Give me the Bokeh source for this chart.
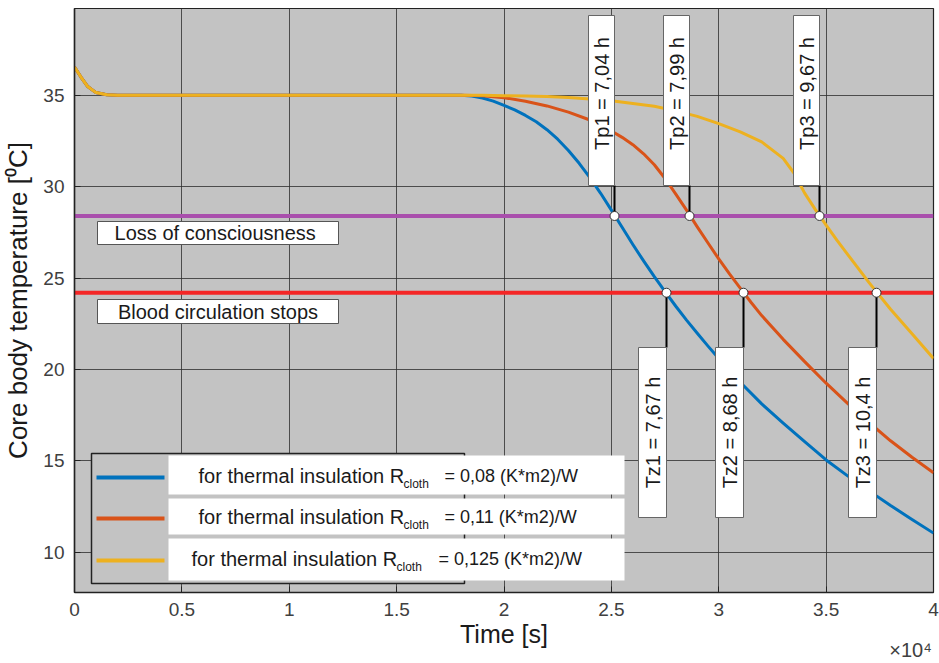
import numpy as np
from bokeh.plotting import figure
from bokeh.models import FixedTicker, LinearAxis, Range1d
from bokeh.core.properties import value
from bokeh.embed import file_html
from bokeh.resources import INLINE

# ---------------- data ----------------
time_r008 = [0, 300, 600, 1000, 1500, 2000, 18000, 18500, 19000, 19500, 20000,
             20500, 21000, 21500, 22000, 22500, 23000, 23500, 24000, 24500, 25000,
             25500, 26000, 26500, 27000, 27500, 28000, 28500, 29000, 29500, 30000,
             31000, 32000, 33000, 34000, 35000, 36000, 37000, 38000, 39000, 40000]
temp_r008 = [36.55, 36.0, 35.5, 35.15, 35.03, 35.0, 35.0, 34.96, 34.85, 34.68, 34.45,
             34.2, 33.9, 33.55, 33.12, 32.6, 31.98, 31.28, 30.5, 29.64, 28.72,
             27.78, 26.84, 25.94, 25.08, 24.26, 23.46, 22.7, 21.98, 21.28, 20.6,
             19.3, 18.12, 17.07, 16.05, 15.05, 14.18, 13.36, 12.56, 11.8, 11.05]

time_r011 = [0, 300, 600, 1000, 1500, 2000, 18000, 19000, 20000, 21000, 22000,
             23000, 24000, 24500, 25000, 25500, 26000, 26500, 27000, 27500, 28000,
             28500, 29000, 29500, 30000, 30500, 31000, 31500, 32000, 33000, 34000,
             35000, 36000, 37000, 38000, 39000, 40000]
temp_r011 = [36.55, 36.0, 35.5, 35.15, 35.03, 35.0, 35.0, 34.97, 34.87, 34.68, 34.42,
             34.08, 33.65, 33.37, 33.05, 32.7, 32.3, 31.8, 31.2, 30.45, 29.6,
             28.72, 27.8, 26.92, 26.05, 25.23, 24.45, 23.68, 22.95, 21.65, 20.43,
             19.25, 18.15, 17.1, 16.1, 15.2, 14.35]

time_r0125 = [0, 300, 600, 1000, 1500, 2000, 19000, 20000, 21000, 22000, 23000,
              24000, 25000, 26000, 27000, 28000, 29000, 30000, 31000, 32000, 32500,
              33000, 33500, 34000, 34500, 35000, 35500, 36000, 37000, 38000, 39000,
              40000]
temp_r0125 = [36.55, 36.0, 35.5, 35.15, 35.03, 35.0, 35.0, 34.98, 34.96, 34.93, 34.88,
              34.8, 34.7, 34.55, 34.4, 34.15, 33.85, 33.45, 33.0, 32.45, 32.0,
              31.55, 30.75, 29.65, 28.75, 27.9, 27.08, 26.3, 24.75, 23.3, 21.95,
              20.6]

series_names = ["0,08", "0,11", "0,125"]
series_colors = ["#0072BD", "#D95319", "#EDB120"]

loss_level = 28.4      # loss of consciousness
stop_level = 24.2      # blood circulation stops

tp_times = [25146, 28638, 34692]
tp_labels = ["Tp1 = 7,04 h", "Tp2 = 7,99 h", "Tp3 = 9,67 h"]
tz_times = [27567, 31153, 37346]
tz_labels = ["Tz1 = 7,67 h", "Tz2 = 8,68 h", "Tz3 = 10,4 h"]

x_ticks = [0, 5000, 10000, 15000, 20000, 25000, 30000, 35000, 40000]
x_tick_labels = ["0", "0.5", "1", "1.5", "2", "2.5", "3", "3.5", "4"]
y_ticks = [10, 15, 20, 25, 30, 35]
x_multiplier = "\u00d710\u2074"

# ---------------- layout helpers (pixel -> data) ----------------
FL, FR, FT, FB = 73, 932, 8, 592
XMIN, XMAX, YMIN, YMAX = 0, 40000, 7.8, 39.75


def px_x(px):
    return XMIN + (px - FL) / (FR - FL) * (XMAX - XMIN)


def px_y(py):
    return YMAX - (py - FT) / (FB - FT) * (YMAX - YMIN)


def wpx(w):
    return w / (FR - FL) * (XMAX - XMIN)


BG = "#c3c3c3"
FONT = "Liberation Sans"
TXT = "#1a1a1a"

p = figure(frame_width=FR - FL, frame_height=FB - FT,
           min_border_left=FL, min_border_right=939 - FR,
           min_border_top=FT, min_border_bottom=663 - FB,
           x_range=Range1d(XMIN, XMAX), y_range=Range1d(YMIN, YMAX),
           output_backend="svg", toolbar_location=None,
           background_fill_color=BG, border_fill_color="white")
p.outline_line_color = "#222222"
p.outline_line_width = 1.2

p.xaxis.ticker = FixedTicker(ticks=x_ticks)
p.xaxis.major_label_overrides = {t: l for t, l in zip(x_ticks, x_tick_labels)}
p.yaxis.ticker = FixedTicker(ticks=y_ticks)
for ax in (p.xaxis[0], p.yaxis[0]):
    ax.major_label_text_font = FONT
    ax.major_label_text_font_size = "19px"
    ax.major_label_text_color = "#404040"
    ax.axis_label_text_font = FONT
    ax.axis_label_text_font_style = "normal"
    ax.axis_label_text_color = TXT
    ax.axis_line_color = "#222222"
    ax.axis_line_width = 1.5
    ax.major_tick_in = 6
    ax.major_tick_out = 0
    ax.major_tick_line_color = "#222222"
    ax.minor_tick_line_color = None
p.xaxis.axis_label = "Time [s]"
p.xaxis.axis_label_text_font_size = "25px"
p.yaxis.axis_label = "Core body temperature [\u2070C]"
p.yaxis.axis_label_text_font_size = "26px"
p.xaxis.major_label_standoff = 10
p.xaxis.axis_label_standoff = 1
p.yaxis.major_label_standoff = 10
p.yaxis.axis_label_standoff = 7

# second (label-only) bottom axis carrying the x10^4 multiplier
mult_pos = px_x(909)
ax2 = LinearAxis(ticker=FixedTicker(ticks=[mult_pos]),
                 major_label_overrides={mult_pos: x_multiplier},
                 axis_line_color=None, major_tick_line_color=None,
                 minor_tick_line_color=None, major_tick_in=0, major_tick_out=0,
                 major_label_standoff=-12, major_label_text_font=FONT,
                 major_label_text_font_size="20px", major_label_text_color="#404040")
p.add_layout(ax2, "below")

p.xgrid.ticker = FixedTicker(ticks=x_ticks)
p.ygrid.ticker = FixedTicker(ticks=y_ticks)
p.grid.grid_line_color = "#2e2e2e"
p.grid.grid_line_width = 1
p.grid.grid_line_alpha = 0.8

# threshold lines
p.line([XMIN, XMAX], [loss_level, loss_level], line_color="#a94fac", line_width=4)
p.line([XMIN, XMAX], [stop_level, stop_level], line_color="#f42626", line_width=4)

# curves
for ts, temps, col in zip([time_r008, time_r011, time_r0125],
                          [temp_r008, temp_r011, temp_r0125], series_colors):
    p.line(ts, temps, line_color=col, line_width=3, line_join="round")

# threshold boxes
for (y0, y1, txt) in [(px_y(244), px_y(221), "Loss of  consciousness"),
                      (px_y(323), px_y(299), "Blood circulation stops")]:
    p.quad(left=px_x(96), right=px_x(337), bottom=y0, top=y1,
           fill_color="white", line_color="#555555", line_width=1)
    p.text(x=[px_x(216.5)], y=[(y0 + y1) / 2], text=[txt],
           text_font=value(FONT), text_font_size="20px", text_color=TXT,
           text_align="center", text_baseline="middle")

# Tp annotations
tp_top, tp_bot = px_y(15), px_y(185)
for t, lab in zip(tp_times, tp_labels):
    p.line([t, t], [tp_bot, loss_level], line_color="black", line_width=2)
    p.quad(left=t - wpx(26), right=t, bottom=tp_bot, top=tp_top,
           fill_color="white", line_color="#666666", line_width=1)
    p.text(x=[t - wpx(13)], y=[px_y(93)], text=[lab], angle=np.pi / 2,
           text_font=value(FONT), text_font_size="20px", text_color=TXT,
           text_align="center", text_baseline="middle")

# Tz annotations
tz_top, tz_bot = px_y(347), px_y(517)
for t, lab in zip(tz_times, tz_labels):
    p.line([t, t], [stop_level, tz_top], line_color="black", line_width=2)
    p.quad(left=t - wpx(28), right=t, bottom=tz_bot, top=tz_top,
           fill_color="white", line_color="#666666", line_width=1)
    p.text(x=[t - wpx(14)], y=[(tz_top + tz_bot) / 2], text=[lab], angle=np.pi / 2,
           text_font=value(FONT), text_font_size="20px", text_color=TXT,
           text_align="center", text_baseline="middle")

# intersection markers
p.scatter(tp_times, [loss_level] * len(tp_times), size=9, fill_color="white",
          line_color="#333333", line_width=1)
p.scatter(tz_times, [stop_level] * len(tz_times), size=9, fill_color="white",
          line_color="#333333", line_width=1)

# legend (custom)
p.quad(left=px_x(90), right=px_x(463), bottom=px_y(583), top=px_y(453),
       fill_color=BG, line_color="#222222", line_width=1.5)
rows = [(455, 494, 475, 197, 443), (498, 534, 516, 197, 443), (538, 580, 558, 190, 437)]
for (r0, r1, rc, xs, xe), name, col in zip(rows, series_names, series_colors):
    p.quad(left=px_x(167), right=px_x(623), bottom=px_y(r1), top=px_y(r0),
           fill_color="white", line_color=None)
    p.line([px_x(95), px_x(163)], [px_y(rc + 2), px_y(rc + 2)], line_color=col, line_width=4)
    p.text(x=[px_x(xs)], y=[px_y(rc)], text=["for thermal insulation R"],
           text_font=value(FONT), text_font_size="20px", text_color=TXT,
           text_align="left", text_baseline="middle")
    p.text(x=[px_x(xs + 205)], y=[px_y(rc + 8)], text=["cloth"],
           text_font=value(FONT), text_font_size="12px", text_color=TXT,
           text_align="left", text_baseline="middle")
    p.text(x=[px_x(xe)], y=[px_y(rc)], text=["= " + name + " (K*m2)/W"],
           text_font=value(FONT), text_font_size="18px", text_color=TXT,
           text_align="left", text_baseline="middle")

open("out.html", "w").write(file_html(p, INLINE))
